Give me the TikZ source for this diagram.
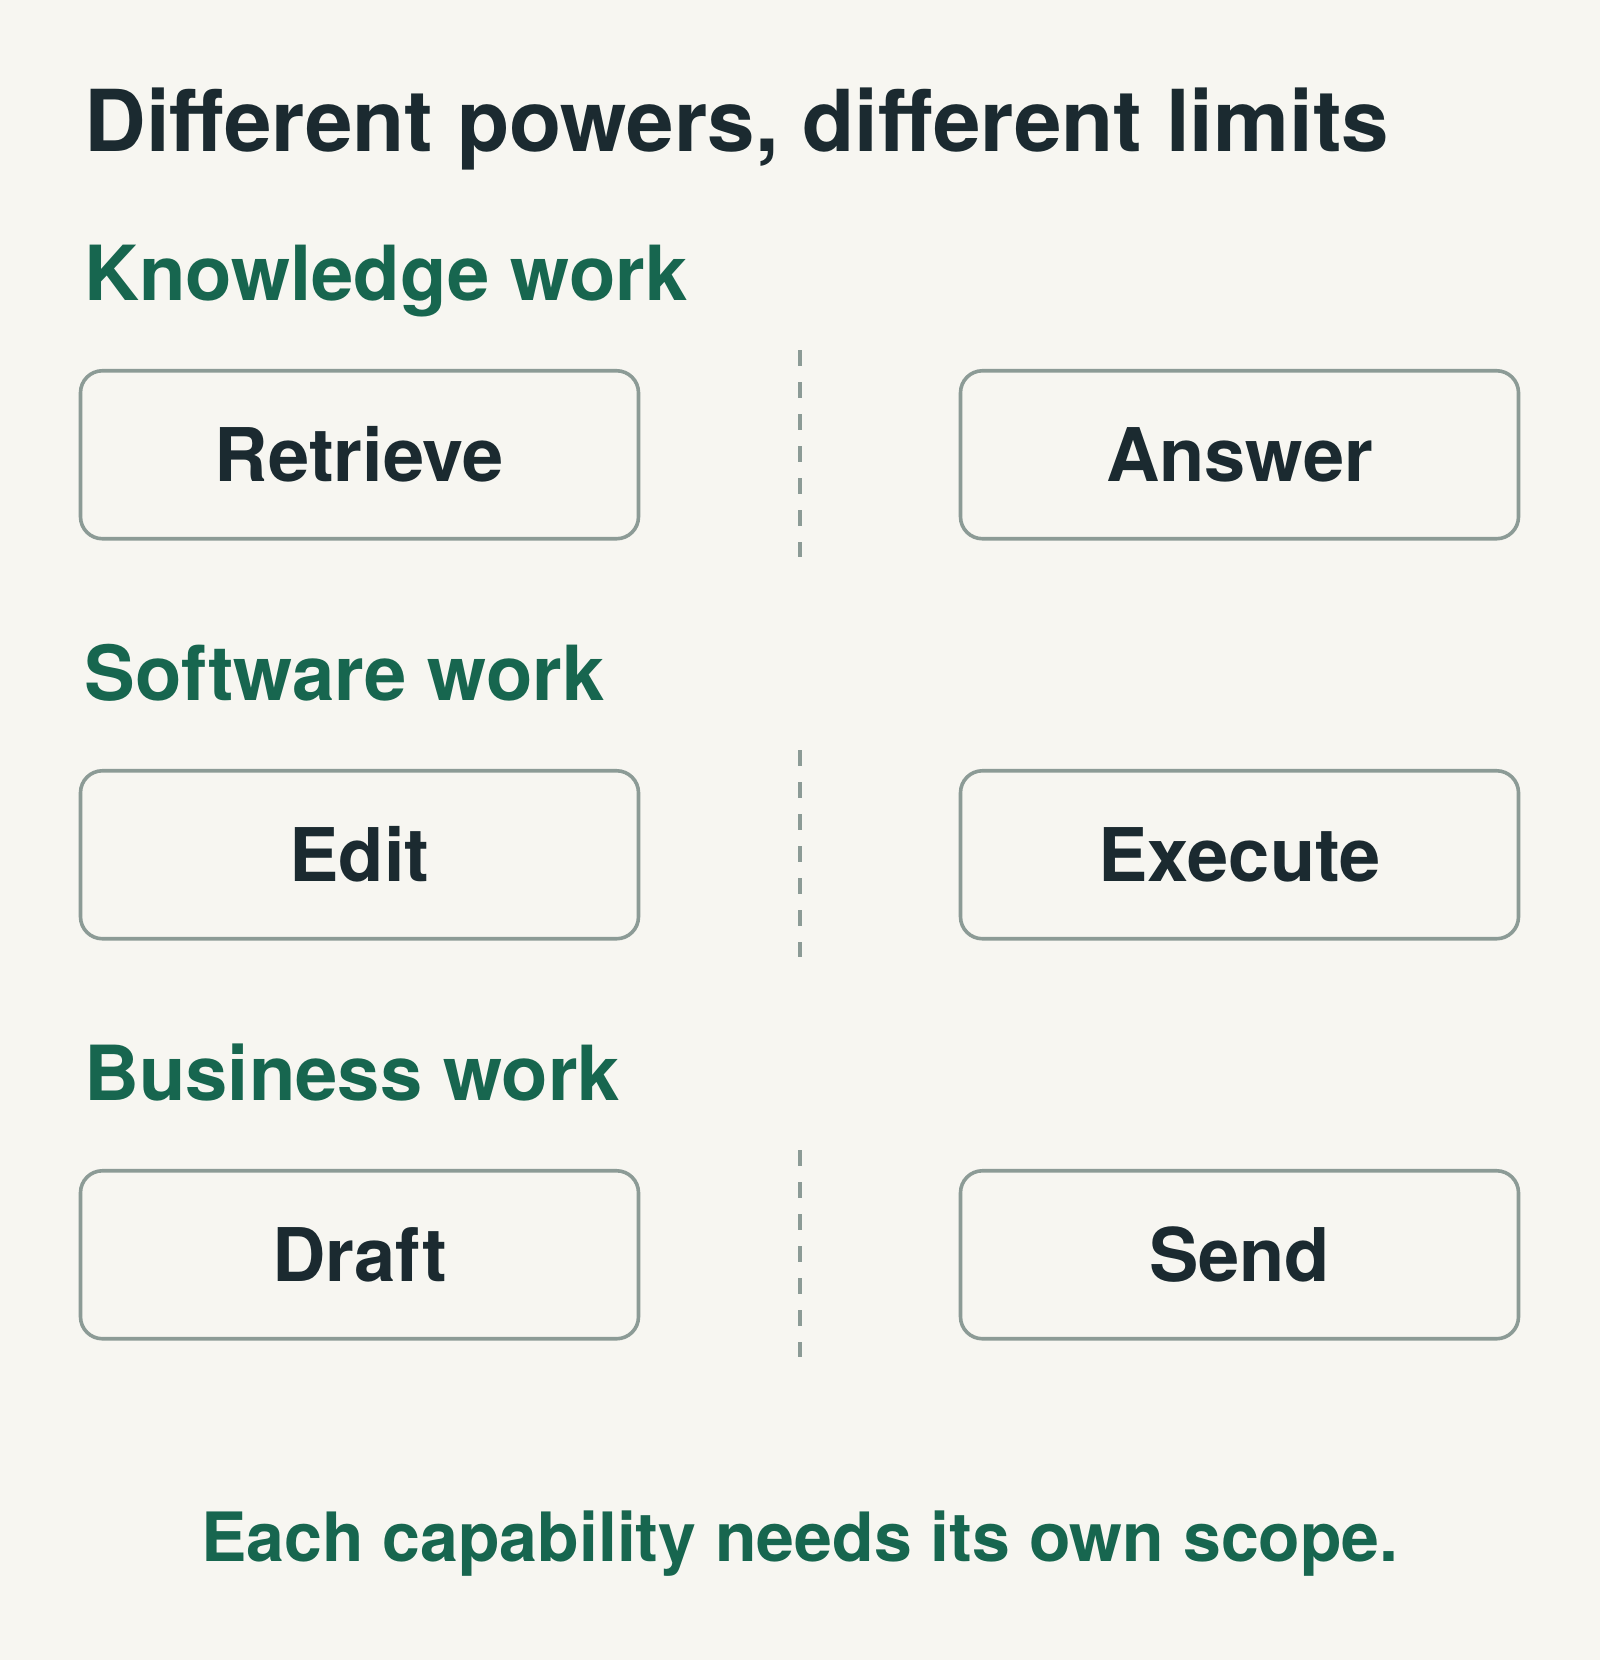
\documentclass[tikz,border=0pt]{standalone}
\usepackage{fontspec}
\setmainfont{TeX Gyre Heros}
\definecolor{paper}{HTML}{F7F6F1}
\definecolor{ink}{HTML}{1B2A30}
\definecolor{leaf}{HTML}{17664F}
\definecolor{rim}{HTML}{8C9B96}
\tikzset{
  capbox/.style={draw=rim, line width=1.8pt, rounded corners=11pt, fill=paper,
    minimum width=279pt, minimum height=84pt, inner sep=0pt, text=ink,
    font=\fontsize{37}{44}\selectfont\bfseries, text height=26.4pt, text depth=0pt},
  worklabel/.style={anchor=base west, inner sep=0pt, text=leaf,
    font=\fontsize{38}{46}\selectfont\bfseries},
  divider/.style={draw=rim, line width=1.6pt, dash pattern=on 8pt off 8pt}
}
\begin{document}
\begin{tikzpicture}[x=0.5pt, y=-0.5pt]
	\useasboundingbox (0,0) rectangle (1600,1660);
	\fill [paper] (0,0) rectangle (1600,1660);
	% heading
	\node (title) [anchor=base west, inner sep=0pt, text=ink, font=\fontsize{42.7}{50}\selectfont\bfseries] at (84,151) {Different powers, different limits};
	% knowledge work
	\node (know) [worklabel] at (84,300) {Knowledge work};
	\node (retrieve) [capbox] at (359.5,454.75) {Retrieve};
	\node (answer) [capbox] at (1239.5,454.75) {Answer};
	\coordinate (know-top) at (800,350);
	\coordinate (know-bot) at (800,557);
	\draw [divider] (know-top) -- (know-bot);
	% software work
	\node (soft) [worklabel] at (84,700) {Software work};
	\node (edit) [capbox] at (359.5,854.75) {Edit};
	\node (execute) [capbox] at (1239.5,854.75) {Execute};
	\coordinate (soft-top) at (800,750);
	\coordinate (soft-bot) at (800,957);
	\draw [divider] (soft-top) -- (soft-bot);
	% business work
	\node (biz) [worklabel] at (84,1100) {Business work};
	\node (draft) [capbox] at (359.5,1254.75) {Draft};
	\node (send) [capbox] at (1239.5,1254.75) {Send};
	\coordinate (biz-top) at (800,1150);
	\coordinate (biz-bot) at (800,1357);
	\draw [divider] (biz-top) -- (biz-bot);
	% footer
	\node (scope) [anchor=base, inner sep=0pt, text=leaf, font=\fontsize{34}{41}\selectfont\bfseries] at (800,1561) {Each capability needs its own scope.};
\end{tikzpicture}
\end{document}
